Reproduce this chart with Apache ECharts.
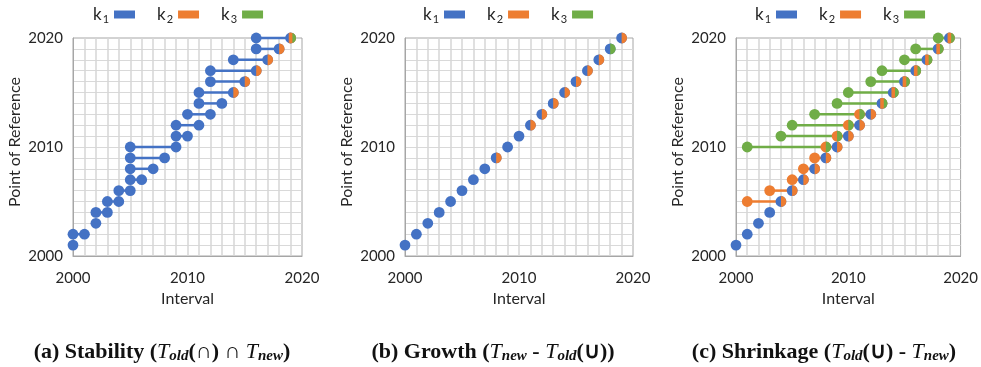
<!DOCTYPE html>
<html><head><meta charset="utf-8">
<script src="https://cdn.jsdelivr.net/npm/echarts@6/dist/echarts.min.js"></script>
<style>html,body{margin:0;padding:0;background:#fff}#c{width:981px;height:367px}</style>
</head><body><div id="c"></div>
<script>
// ---------- DATA ----------
const refYears = [2001,2002,2003,2004,2005,2006,2007,2008,2009,2010,2011,2012,2013,2014,2015,2016,2017,2018,2019,2020];
const kNames = ['k1','k2','k3'];
const xTicks = [2000,2010,2020];

// (a) Stability
const aK1Start = [2000,2000,2002,2002,2003,2004,2005,2005,2005,2005,2009,2009,2010,2011,2011,2012,2012,2014,2016,2016];
const aK1End   = [2000,2001,2002,2003,2004,2005,2006,2007,2008,2009,2010,2011,2012,2013,2014,2015,2016,2017,2018,2019];
const aK2Start = [null,null,null,null,null,null,null,null,null,null,null,null,null,null,2014,2015,2016,2017,2018,2019];
const aK2End   = [null,null,null,null,null,null,null,null,null,null,null,null,null,null,2014,2015,2016,2017,2018,2019];
const aK3Start = [null,null,null,null,null,null,null,null,null,null,null,null,null,null,null,null,null,null,null,2019];
const aK3End   = [null,null,null,null,null,null,null,null,null,null,null,null,null,null,null,null,null,null,null,2019];

// (b) Growth
const bK1 = [2000,2001,2002,2003,2004,2005,2006,2007,2008,2009,2010,2011,2012,2013,2014,2015,2016,2017,2018,2019];
const bK2 = [null,null,null,null,null,null,null,null,2008,null,null,2011,2012,2013,2014,2015,2016,2017,null,2019];
const bK3 = [null,null,null,null,null,null,null,null,null,null,null,null,null,null,null,null,null,null,2018,null];

// (c) Shrinkage
const cK1 = [2000,2001,2002,2003,2004,2005,2006,2007,2008,2009,2010,2011,2012,2013,2014,2015,2016,2017,2018,2019];
const cK2Start = [null,null,null,null,2001,2003,2005,2006,2007,2008,2009,2010,2011,2013,2014,2015,2016,2017,2018,2019];
const cK2End   = [null,null,null,null,2004,2005,2006,2007,2008,2009,2010,2011,2012,2013,2014,2015,2016,2017,2018,2019];
const cK3Start = [null,null,null,null,null,null,null,null,null,2001,2004,2005,2007,2009,2010,2012,2013,2015,2016,2018];
const cK3End   = [null,null,null,null,null,null,null,null,null,2008,2009,2010,2011,2013,2014,2015,2016,2017,2018,2019];

const captions = [
  ['(a) Stability (', 'old', '(∩) ∩ ', 'new', ')'],
  ['(b) Growth (', 'new', ' - ', 'old', '(∪))'],
  ['(c) Shrinkage (', 'old', '(∪) - ', 'new', ')']
];

// ---------- STYLE ----------
const COLORS = ['#4472C4', '#ED7D31', '#70AD47'];
const R = 5.4, LINE_W = 2.5;
const FONT = 'Lato';
const TXT = '#262626';
const grids = [
  {left: 73, top: 38, width: 229, height: 218},
  {left: 405, top: 38, width: 228, height: 218},
  {left: 736, top: 38, width: 227, height: 218}
];
const legendLeft = [93, 423, 755];
const captionX = [162, 493, 824];

function buildPanel(starts, ends) {
  const segs = [[], [], []];
  const dotMap = new Map();
  for (let k = 0; k < 3; k++) {
    for (let i = 0; i < refYears.length; i++) {
      const s = starts[k][i], e = ends[k][i];
      if (s == null) continue;
      const y = refYears[i];
      if (e !== s) segs[k].push([s, e, y]);
      (s === e ? [s] : [s, e]).forEach(x => {
        const key = x + '|' + y;
        dotMap.set(key, (dotMap.get(key) || 0) | (1 << k));
      });
    }
  }
  const dots = [];
  dotMap.forEach((m, key) => { const p = key.split('|').map(Number); dots.push([p[0], p[1], m]); });
  return {segs, dots};
}

const panels = [
  buildPanel([aK1Start, aK2Start, aK3Start], [aK1End, aK2End, aK3End]),
  buildPanel([bK1, bK2, bK3], [bK1, bK2, bK3]),
  buildPanel([cK1, cK2Start, cK3Start], [cK1, cK2End, cK3End])
];

function lineRender(color) {
  return function (params, api) {
    const p0 = api.coord([api.value(0), api.value(2)]);
    const p1 = api.coord([api.value(1), api.value(2)]);
    return {type: 'line', shape: {x1: p0[0], y1: p0[1], x2: p1[0], y2: p1[1]},
      style: {stroke: color, lineWidth: LINE_W}};
  };
}
function dotRender(params, api) {
  const c = api.coord([api.value(0), api.value(1)]);
  const mask = api.value(2);
  const cols = [];
  for (let k = 0; k < 3; k++) if (mask & (1 << k)) cols.push(COLORS[k]);
  const children = [{type: 'circle', shape: {cx: c[0], cy: c[1], r: R}, style: {fill: cols[0]}}];
  const n = cols.length;
  for (let i = 1; i < n; i++) {
    const cut = -R + 2 * R * i / n;
    const a = Math.acos(cut / R);
    const pts = [];
    const N = 24;
    for (let j = 0; j <= N; j++) {
      const t = -a + 2 * a * j / N;
      pts.push([c[0] + R * Math.cos(t), c[1] + R * Math.sin(t)]);
    }
    children.push({type: 'polygon', shape: {points: pts}, style: {fill: cols[i]}});
  }
  return {type: 'group', children};
}

const option = {
  animation: false,
  backgroundColor: '#fff',
  grid: grids.map(g => Object.assign({show: true, borderColor: '#a6a6a6', borderWidth: 1, backgroundColor: 'transparent'}, g)),
  xAxis: grids.map((g, i) => ({
    type: 'value', gridIndex: i, min: xTicks[0], max: xTicks[2], interval: 10,
    name: 'Interval', nameLocation: 'middle', nameGap: 22,
    nameTextStyle: {fontFamily: FONT, fontSize: 16, color: TXT},
    axisLabel: {fontFamily: FONT, fontSize: 15, color: TXT, margin: 15, formatter: v => String(v)},
    axisTick: {show: false},
    axisLine: {show: true, lineStyle: {color: '#a6a6a6', width: 1}},
    splitLine: {show: true, showMinLine: false, showMaxLine: false, lineStyle: {color: '#d6d6d6', width: 1.5}},
    minorTick: {show: false, splitNumber: 10},
    minorSplitLine: {show: true, lineStyle: {color: '#d6d6d6', width: 1.5}}
  })),
  yAxis: grids.map((g, i) => ({
    type: 'value', gridIndex: i, min: 2000, max: 2020, interval: 10,
    name: 'Point of Reference', nameLocation: 'middle', nameGap: 50,
    nameTextStyle: {fontFamily: FONT, fontSize: 16, color: TXT, padding: [0, 0, 0, 10]},
    axisLabel: {fontFamily: FONT, fontSize: 15, color: TXT, margin: 10, formatter: v => String(v)},
    axisTick: {show: false},
    axisLine: {show: true, lineStyle: {color: '#a6a6a6', width: 1}},
    splitLine: {show: true, showMinLine: false, showMaxLine: false, lineStyle: {color: '#d9d9d9', width: 1}},
    minorTick: {show: false, splitNumber: 10},
    minorSplitLine: {show: true, lineStyle: {color: '#d9d9d9', width: 1}}
  })),
  legend: grids.map((g, i) => ({
    left: legendLeft[i], top: 6, padding: 0, align: 'right', itemGap: 22,
    itemWidth: 21, itemHeight: 8, icon: 'rect', selectedMode: false,
    data: kNames.map((nm, k) => ({name: nm, itemStyle: {color: COLORS[k]}})),
    formatter: nm => '{k|k}{s|' + nm.slice(1) + '}',
    textStyle: {fontFamily: FONT, color: TXT,
      rich: {k: {fontFamily: FONT, fontSize: 17, color: TXT},
             s: {fontFamily: FONT, fontSize: 11, color: TXT, padding: [9, 0, 0, 1]}}}
  })),
  series: [],
  graphic: captions.map((c, i) => ({
    type: 'text', x: captionX[i], y: 352,
    style: {
      text: '{b|' + c[0] + '}{t|T}{s|' + c[1] + '}{b|' + c[2] + '}{t|T}{s|' + c[3] + '}{b|' + c[4] + '}',
      align: 'center', verticalAlign: 'middle',
      rich: {
        b: {fontFamily: 'Liberation Serif', fontWeight: 'bold', fontSize: 22, fill: '#111'},
        t: {fontFamily: 'Liberation Serif', fontStyle: 'italic', fontSize: 22, fill: '#111'},
        s: {fontFamily: 'Liberation Serif', fontStyle: 'italic', fontWeight: 'bold', fontSize: 15, fill: '#111', padding: [9, 0, 0, 0]}
      }
    }
  }))
};

panels.forEach((p, i) => {
  for (let k = 2; k >= 0; k--) {
    option.series.push({
      type: 'custom', name: kNames[k], xAxisIndex: i, yAxisIndex: i, clip: false,
      itemStyle: {color: COLORS[k]}, z: 2,
      renderItem: lineRender(COLORS[k]),
      encode: {x: [0, 1], y: 2},
      data: p.segs[k]
    });
  }
  option.series.push({
    type: 'custom', name: 'dots', xAxisIndex: i, yAxisIndex: i, clip: false, z: 3,
    renderItem: dotRender, encode: {x: 0, y: 1},
    data: p.dots
  });
});

const chart = echarts.init(document.getElementById('c'), null, {renderer: 'canvas'});
chart.setOption(option);
</script>
</body></html>
